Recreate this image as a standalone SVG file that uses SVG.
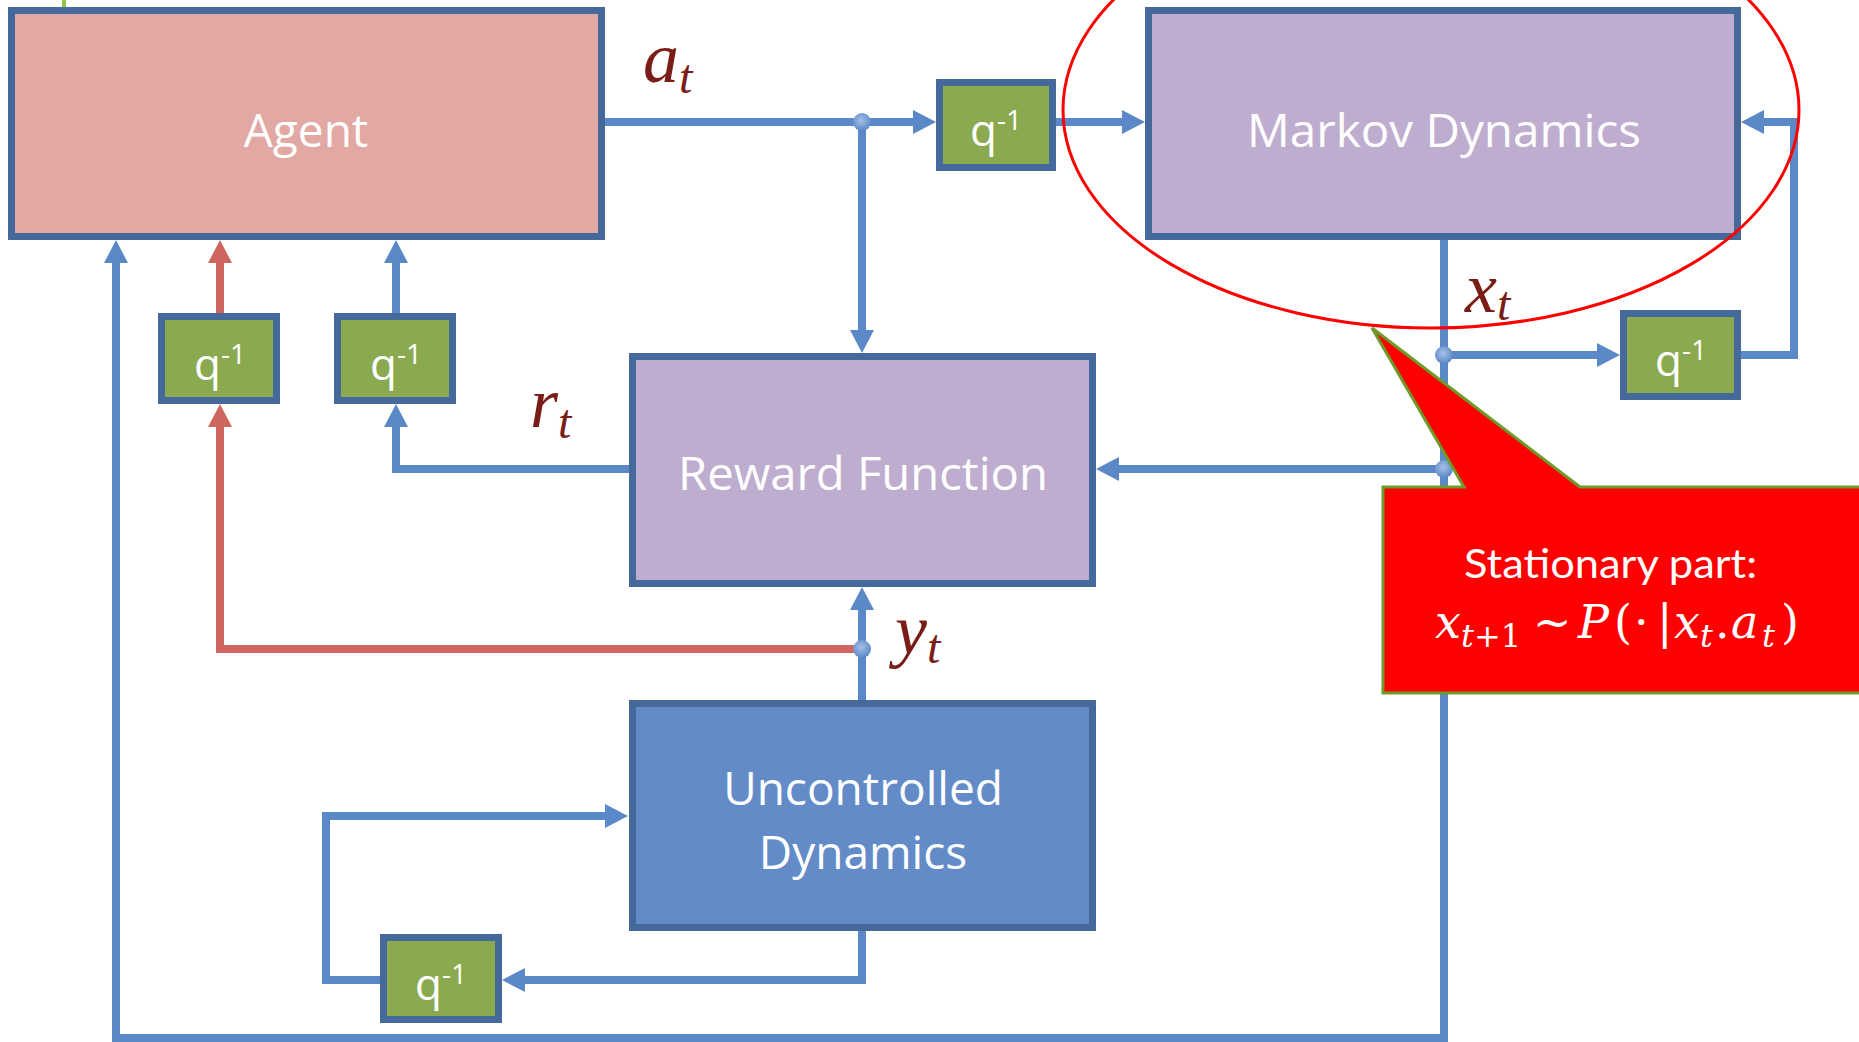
<svg xmlns="http://www.w3.org/2000/svg" width="1859" height="1042" viewBox="0 0 1859 1042">
  <style>
    .box { stroke: #46699C; stroke-width: 7; }
    .agent { fill: #E2A8A4; }
    .purple { fill: #BFADD0; }
    .uncontrolled { fill: #628BC7; }
    .delay { fill: #8BAA4F; }
    .label { font-family: "Open Sans", "Noto Sans", sans-serif; font-size: 46px; fill: #FFFFFF; text-anchor: middle; }
    .q { font-family: "Open Sans", "Noto Sans", sans-serif; font-size: 44px; fill: #FFFFFF; text-anchor: middle; }
    .sup { font-size: 28px; }
    .wire { fill: none; stroke: #5B88C6; stroke-width: 8; stroke-linejoin: miter; }
    .wire-red { fill: none; stroke: #CF665E; stroke-width: 8; stroke-linejoin: miter; }
    .sig { font-family: "Liberation Serif", "Times New Roman", serif; font-style: italic; fill: #7A1D17; font-size: 72px; }
    .sig .sub { font-size: 48px; }
    .callout-text { font-family: "Lato", "Noto Sans", sans-serif; font-size: 40px; fill: #FFFFFF; }
    .math { font-family: "DejaVu Serif", "Liberation Serif", serif; font-style: italic; font-size: 46px; fill: #FFFFFF; }
    .math .s { font-size: 32px; }
    .math .up { font-style: normal; }
  </style>
  <defs>
    <marker id="arrow" markerUnits="userSpaceOnUse" viewBox="0 0 24 24" markerWidth="24" markerHeight="24" refX="12" refY="12" orient="auto">
      <path d="M0,0 L23,12 L0,24 Z" fill="#5B88C6"/>
    </marker>
    <marker id="arrow-red" markerUnits="userSpaceOnUse" viewBox="0 0 24 24" markerWidth="24" markerHeight="24" refX="12" refY="12" orient="auto">
      <path d="M0,0 L23,12 L0,24 Z" fill="#CF665E"/>
    </marker>
    <radialGradient id="dot" cx="45%" cy="40%" r="60%">
      <stop offset="0" stop-color="#A5C1E6"/>
      <stop offset="1" stop-color="#5B88C6"/>
    </radialGradient>
  </defs>

  <rect width="1859" height="1042" fill="#FFFFFF"/>

  <!-- edge of a neighbouring shape -->
  <line x1="64" y1="0" x2="64" y2="7" stroke="#92C83E" stroke-width="4"/>

  <!-- blocks -->
  <g id="agent">
    <rect class="box agent" x="11.5" y="10.5" width="590" height="226"/>
    <text class="label" x="306" y="147">Agent</text>
  </g>
  <g id="markov-dynamics">
    <rect class="box purple" x="1148.5" y="10.5" width="589" height="226"/>
    <text class="label" x="1444" y="147" textLength="394" lengthAdjust="spacingAndGlyphs">Markov Dynamics</text>
  </g>
  <g id="reward-function">
    <rect class="box purple" x="632.5" y="356.5" width="460" height="227"/>
    <text class="label" x="863" y="490" textLength="370" lengthAdjust="spacingAndGlyphs">Reward Function</text>
  </g>
  <g id="uncontrolled-dynamics">
    <rect class="box uncontrolled" x="632.5" y="703.5" width="460" height="224"/>
    <text class="label" x="863" y="805">Uncontrolled</text>
    <text class="label" x="863" y="869">Dynamics</text>
  </g>

  <!-- unit delays -->
  <g id="delay-action">
    <rect class="box delay" x="939.5" y="82.5" width="113" height="85"/>
    <text class="q" x="996" y="146">q<tspan class="sup" dy="-16">-1</tspan></text>
  </g>
  <g id="delay-state">
    <rect class="box delay" x="1623.5" y="313.5" width="114" height="83"/>
    <text class="q" x="1681" y="376">q<tspan class="sup" dy="-16">-1</tspan></text>
  </g>
  <g id="delay-reward">
    <rect class="box delay" x="337.5" y="316.5" width="115" height="84"/>
    <text class="q" x="396" y="380">q<tspan class="sup" dy="-16">-1</tspan></text>
  </g>
  <g id="delay-observation">
    <rect class="box delay" x="161.5" y="316.5" width="115" height="84"/>
    <text class="q" x="220" y="380">q<tspan class="sup" dy="-16">-1</tspan></text>
  </g>
  <g id="delay-uncontrolled">
    <rect class="box delay" x="383.5" y="937.5" width="115" height="82"/>
    <text class="q" x="441" y="1000">q<tspan class="sup" dy="-16">-1</tspan></text>
  </g>

  <!-- signal paths -->
  <g id="connectors">
    <path class="wire" d="M605,122 H925" marker-end="url(#arrow)"/>
    <path class="wire" d="M862,122 V342" marker-end="url(#arrow)"/>
    <path class="wire" d="M1056,122 H1134" marker-end="url(#arrow)"/>
    <path class="wire" d="M1444,240 V1038 H116 V251" marker-end="url(#arrow)"/>
    <path class="wire" d="M1444,355 H1609" marker-end="url(#arrow)"/>
    <path class="wire" d="M1741,355 H1794 V122 H1752" marker-end="url(#arrow)"/>
    <path class="wire" d="M1444,469 H1107" marker-end="url(#arrow)"/>
    <path class="wire" d="M629,469 H396 V415" marker-end="url(#arrow)"/>
    <path class="wire" d="M396,313 V251" marker-end="url(#arrow)"/>
    <path class="wire" d="M862,700 V598" marker-end="url(#arrow)"/>
    <path class="wire-red" d="M862,649 H220 V415" marker-end="url(#arrow-red)"/>
    <path class="wire-red" d="M220,313 V251" marker-end="url(#arrow-red)"/>
    <path class="wire" d="M862,931 V980 H513" marker-end="url(#arrow)"/>
    <path class="wire" d="M380,980 H326 V816 H617" marker-end="url(#arrow)"/>
    <circle cx="862" cy="122" r="9" fill="url(#dot)"/>
    <circle cx="1444" cy="355" r="9" fill="url(#dot)"/>
    <circle cx="1444" cy="469" r="9" fill="url(#dot)"/>
    <circle cx="862" cy="649" r="9" fill="url(#dot)"/>
  </g>

  <!-- signal names -->
  <g id="signal-labels">
    <text class="sig" x="643" y="82">a<tspan class="sub" dy="11">t</tspan></text>
    <text class="sig" x="1465" y="312">x<tspan class="sub" dy="8">t</tspan></text>
    <text class="sig" x="530" y="427">r<tspan class="sub" dy="11">t</tspan></text>
    <text class="sig" x="895" y="654">y<tspan class="sub" dy="9">t</tspan></text>
  </g>

  <!-- highlight around the stationary block -->
  <ellipse id="highlight" cx="1431" cy="110" rx="368" ry="218" fill="none" stroke="#FF0000" stroke-width="3"/>

  <!-- callout -->
  <g id="callout">
    <path d="M1372,328 L1464,487 L1383,487 L1383,693 L1863,693 L1863,487 L1580,487 Z" fill="#FF0000" stroke="#6E9A2A" stroke-width="3"/>
    <text class="callout-text" x="1464" y="578" textLength="293" lengthAdjust="spacingAndGlyphs">Stationary part:</text>
    <text class="math" y="638">
      <tspan x="1435">x</tspan>
      <tspan class="s" x="1461" y="647">t</tspan>
      <tspan class="s up" x="1474" y="647">+1</tspan>
      <tspan class="up" x="1533" y="638">~</tspan>
      <tspan x="1578" y="638">P</tspan>
      <tspan class="up" x="1614" y="638">(</tspan>
      <tspan class="up" x="1634" y="638">·</tspan>
      <tspan class="up" x="1657" y="638">|</tspan>
      <tspan x="1674" y="638">x</tspan>
      <tspan class="s" x="1700" y="647">t</tspan>
      <tspan class="up" x="1715" y="638">.</tspan>
      <tspan x="1731" y="638">a</tspan>
      <tspan class="s" x="1762" y="647">t</tspan>
      <tspan class="up" x="1781" y="638">)</tspan>
    </text>
  </g>
</svg>
